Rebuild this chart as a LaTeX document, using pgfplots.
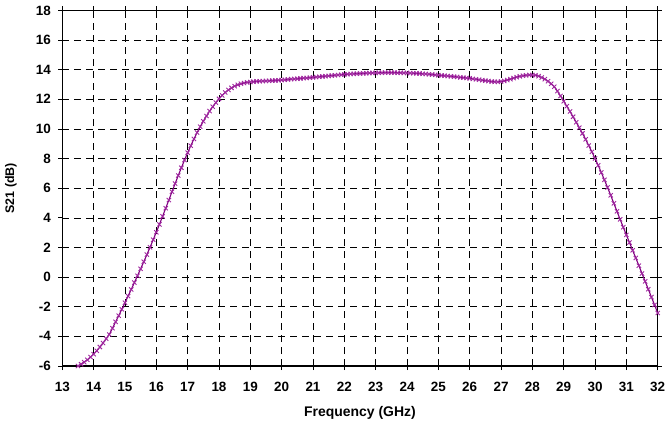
\documentclass[border=0pt]{standalone}
\usepackage{fontspec}
\setmainfont{Liberation Sans}
\usepackage{pgfplots}
\pgfplotsset{compat=1.18}
\definecolor{curve}{RGB}{128,0,128}
\definecolor{curvemark}{RGB}{160,40,160}
\begin{document}
\begin{tikzpicture}
\begin{axis}[
  at={(62.3bp,-10.4bp)}, anchor=north west,
  scale only axis, width=595.4bp, height=355.6bp,
  xmin=13, xmax=32, ymin=-6, ymax=18,
  xtick={13,14,...,32}, ytick={-6,-4,...,18},
  tick align=outside, major tick length=4bp,
  tick style={black, line width=0.8bp},
  axis line style={black, line width=0.9bp},
  grid=major,
  major grid style={black, line width=0.6bp, dash pattern=on 7bp off 5bp},
  /pgf/number format/assume math mode=true,
  ticklabel style={font=\fontsize{13.5}{14}\selectfont\bfseries},
  xticklabel style={yshift=-9bp},
  yticklabel style={xshift=-4bp},
  xlabel={Frequency (GHz)}, ylabel={S21 (dB)},
  every axis x label/.style={at={(axis description cs:0.5,-0.132)}, anchor=center, font=\fontsize{14}{16}\selectfont\bfseries},
  every axis y label/.style={at={(axis description cs:-0.0862,0.5)}, rotate=90, anchor=center, font=\fontsize{12.5}{14}\selectfont\bfseries},
]
\addplot[color=curve, line width=1.1bp, mark=x, mark size=3bp, mark options={line width=0.9bp, solid, color=curvemark}] table {
x y
13.5 -6.00
13.6 -5.88
13.7 -5.74
13.8 -5.58
13.9 -5.40
14.0 -5.20
14.1 -4.97
14.2 -4.72
14.3 -4.45
14.4 -4.16
14.5 -3.87
14.6 -3.45
14.7 -3.02
14.8 -2.60
14.9 -2.17
15.0 -1.73
15.1 -1.28
15.2 -0.83
15.3 -0.37
15.4 0.09
15.5 0.56
15.6 1.04
15.7 1.52
15.8 2.01
15.9 2.52
16.0 3.03
16.1 3.56
16.2 4.10
16.3 4.65
16.4 5.20
16.5 5.76
16.6 6.31
16.7 6.85
16.8 7.38
16.9 7.90
17.0 8.40
17.1 8.87
17.2 9.32
17.3 9.75
17.4 10.15
17.5 10.52
17.6 10.87
17.7 11.20
17.8 11.50
17.9 11.78
18.0 12.03
18.1 12.26
18.2 12.46
18.3 12.63
18.4 12.77
18.5 12.89
18.6 12.98
18.7 13.05
18.8 13.10
18.9 13.14
19.0 13.17
19.1 13.19
19.2 13.21
19.3 13.22
19.4 13.23
19.5 13.24
19.6 13.25
19.7 13.26
19.8 13.27
19.9 13.28
20.0 13.30
20.1 13.32
20.2 13.34
20.3 13.36
20.4 13.37
20.5 13.39
20.6 13.41
20.7 13.43
20.8 13.44
20.9 13.46
21.0 13.48
21.1 13.50
21.2 13.52
21.3 13.54
21.4 13.56
21.5 13.58
21.6 13.60
21.7 13.62
21.8 13.64
21.9 13.66
22.0 13.68
22.1 13.69
22.2 13.71
22.3 13.72
22.4 13.73
22.5 13.74
22.6 13.75
22.7 13.76
22.8 13.77
22.9 13.78
23.0 13.78
23.1 13.79
23.2 13.79
23.3 13.80
23.4 13.80
23.5 13.80
23.6 13.80
23.7 13.79
23.8 13.79
23.9 13.78
24.0 13.78
24.1 13.77
24.2 13.76
24.3 13.75
24.4 13.74
24.5 13.72
24.6 13.71
24.7 13.69
24.8 13.67
24.9 13.65
25.0 13.63
25.1 13.61
25.2 13.59
25.3 13.57
25.4 13.55
25.5 13.53
25.6 13.51
25.7 13.48
25.8 13.46
25.9 13.44
26.0 13.41
26.1 13.38
26.2 13.35
26.3 13.32
26.4 13.29
26.5 13.26
26.6 13.23
26.7 13.20
26.8 13.18
26.9 13.18
27.0 13.20
27.1 13.24
27.2 13.30
27.3 13.36
27.4 13.43
27.5 13.50
27.6 13.55
27.7 13.59
27.8 13.62
27.9 13.64
28.0 13.64
28.1 13.62
28.2 13.56
28.3 13.47
28.4 13.36
28.5 13.22
28.6 13.05
28.7 12.85
28.8 12.55
28.9 12.22
29.0 11.87
29.1 11.53
29.2 11.18
29.3 10.82
29.4 10.45
29.5 10.08
29.6 9.70
29.7 9.30
29.8 8.88
29.9 8.45
30.0 8.01
30.1 7.55
30.2 7.06
30.3 6.56
30.4 6.05
30.5 5.52
30.6 4.98
30.7 4.44
30.8 3.90
30.9 3.37
31.0 2.85
31.1 2.33
31.2 1.81
31.3 1.29
31.4 0.77
31.5 0.24
31.6 -0.29
31.7 -0.82
31.8 -1.35
31.9 -1.88
32.0 -2.42
};
\draw[black, line width=1.8bp] (rel axis cs:0,1) -- (rel axis cs:0,0) -- (rel axis cs:1,0);
\end{axis}
\pgfresetboundingbox
\path[use as bounding box] (0,0) rectangle (668bp,-428bp);
\end{tikzpicture}
\end{document}
